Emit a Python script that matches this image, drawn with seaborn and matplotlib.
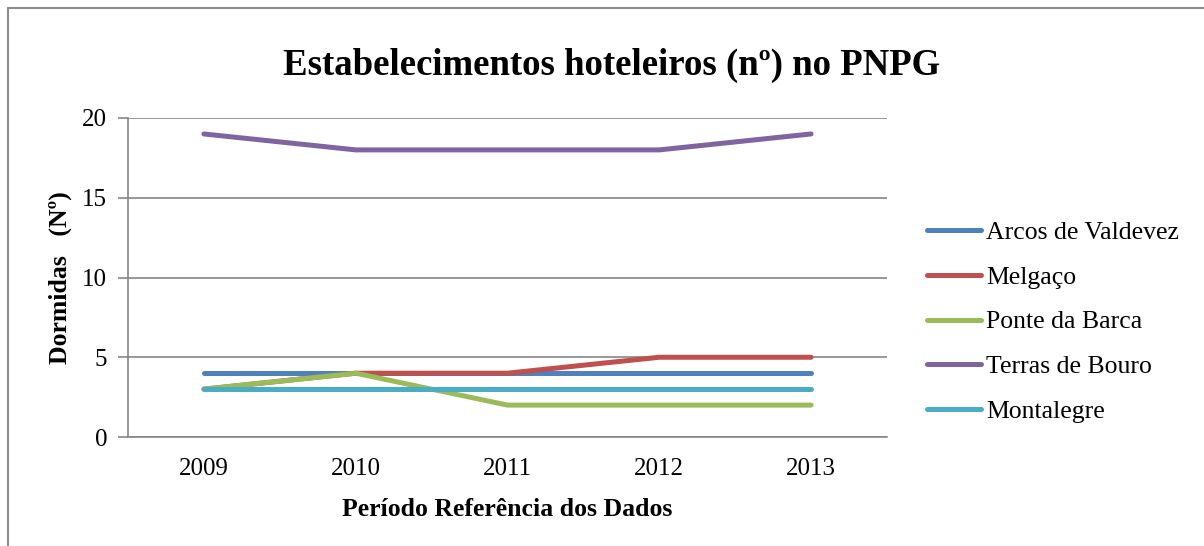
import matplotlib
matplotlib.use("Agg")
import matplotlib.pyplot as plt
import seaborn as sns
import pandas as pd
from matplotlib.patches import Rectangle

# dados do gráfico
anos = ["2009", "2010", "2011", "2012", "2013"]
arcos_de_valdevez = [4, 4, 4, 4, 4]
melgaco = [3, 4, 4, 5, 5]
ponte_da_barca = [3, 4, 2, 2, 2]
terras_de_bouro = [19, 18, 18, 18, 19]
montalegre = [3, 3, 3, 3, 3]

series = {
    "Arcos de Valdevez": arcos_de_valdevez,
    "Melgaço": melgaco,
    "Ponte da Barca": ponte_da_barca,
    "Terras de Bouro": terras_de_bouro,
    "Montalegre": montalegre,
}
cores = ["#4F81BD", "#C0504D", "#9BBB59", "#8064A2", "#4BACC6"]

linhas = []
for nome, valores in series.items():
    for ano, v in zip(anos, valores):
        linhas.append({"Ano": ano, "Concelho": nome, "Valor": v})
df = pd.DataFrame(linhas)

sns.set_style("white")
plt.rcParams["font.family"] = ["Liberation Serif", "DejaVu Serif"]
plt.rcParams["text.color"] = "black"
plt.rcParams["axes.labelcolor"] = "black"

fig = plt.figure(figsize=(12.04, 5.46), dpi=100)
ax = fig.add_axes([128 / 1204, 1 - 437 / 546, 759 / 1204, 319 / 546])

sns.lineplot(data=df, x="Ano", y="Valor", hue="Concelho", palette=cores,
             linewidth=3.6, ax=ax, sort=False, solid_capstyle="round")

ax.set_xlim(-0.5, 4.5)
ax.set_ylim(0, 20)
ax.set_yticks([0, 5, 10, 15, 20])
ax.yaxis.grid(True, color="#868686", linewidth=1.2)
ax.xaxis.grid(False)
ax.set_axisbelow(True)

# ticks do eixo x entre categorias
ax.set_xticks([0, 1, 2, 3, 4])
ax.set_xticklabels(anos)
ax.set_xticks([-0.5, 0.5, 1.5, 2.5, 3.5, 4.5], minor=True)
ax.tick_params(axis="x", which="major", length=0, labelsize=18, pad=15, labelcolor="black")
ax.tick_params(axis="x", which="minor", length=7, width=1.2, color="#868686", direction="out")
ax.tick_params(axis="y", length=7, width=1.2, color="#868686", direction="out",
               labelsize=18, pad=8, labelcolor="black")
ax.tick_params(axis="both", bottom=True, left=True)

for lado in ["top", "right"]:
    ax.spines[lado].set_visible(False)
for lado in ["left", "bottom"]:
    ax.spines[lado].set_color("#868686")
    ax.spines[lado].set_linewidth(1.2)

ax.set_xlabel("Período Referência dos Dados", fontsize=18.5, fontweight="bold", labelpad=13)
ax.set_ylabel("Dormidas   (Nº)", fontsize=18.5, fontweight="bold", labelpad=7)

fig.text(612 / 1204, 1 - 65 / 546, "Estabelecimentos hoteleiros (nº) no PNPG",
         ha="center", va="center", fontsize=26.5, fontweight="bold", color="black")

handles, labels = ax.get_legend_handles_labels()
ax.legend(handles, labels, loc="center left", bbox_to_anchor=(914 / 1204, 1 - 322 / 546),
          bbox_transform=fig.transFigure, frameon=False, fontsize=18.5,
          handlelength=2.1, handletextpad=0.2, labelspacing=0.85, borderpad=0)

# moldura do gráfico
fig.patches.append(Rectangle((8 / 1204, -0.1), 1.2, 1 - 8 / 546 + 0.1,
                             transform=fig.transFigure, fill=False,
                             edgecolor="#8c8c8c", linewidth=1.5))

fig.savefig("out.png", dpi=100)
